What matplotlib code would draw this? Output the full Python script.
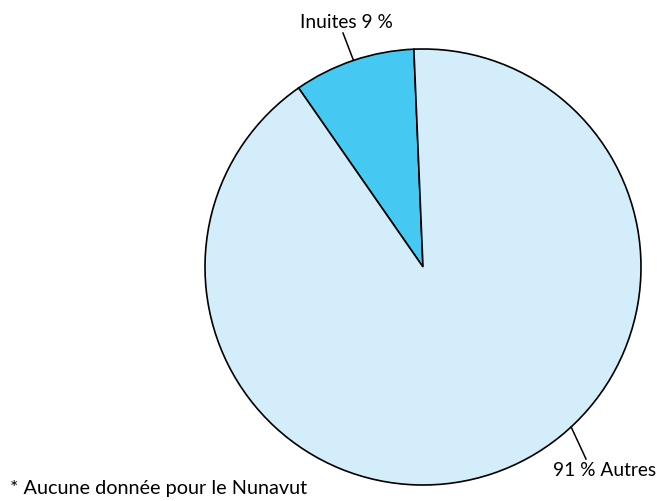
import numpy as np
import matplotlib.pyplot as plt

# data
labels = ['Inuites', 'Autres']
values = [9, 91]
colors = ['#45C8F2', '#D3EEFA']
label_texts = ['Inuites 9 %', '91 % Autres']
note = '* Aucune donnée pour le Nunavut'

W, H = 657, 502
fig = plt.figure(figsize=(W / 100, H / 100), dpi=100)
ax = fig.add_axes([0, 0, 1, 1])

cx, cy, r = 423, H - 268, 218
wedges, _ = ax.pie(values, colors=colors, startangle=92.4, counterclock=True,
                   center=(cx, cy), radius=r, frame=True,
                   wedgeprops=dict(edgecolor='black', linewidth=1.2))
ax.set_xlim(0, W)
ax.set_ylim(0, H)
ax.set_aspect('equal')
ax.axis('off')

font = 'Lato'
# leader lines: angle on the rim, end of the line, text position
ann = [
    (108.6, (343, H - 34), (346, H - 23)),
    (312.8, (586, H - 460), (605, H - 471)),
]
for txt, (ang, end, tpos) in zip(label_texts, ann):
    a = np.deg2rad(ang)
    p = (cx + r * np.cos(a), cy + r * np.sin(a))
    ax.plot([p[0], end[0]], [p[1], end[1]], color='black', lw=1.1)
    ax.text(tpos[0], tpos[1], txt, ha='center', va='center', fontsize=13.8, family=font)

ax.text(10, H - 489, note, ha='left', va='center', fontsize=14.3, family=font)

fig.savefig('out.png', dpi=100)
